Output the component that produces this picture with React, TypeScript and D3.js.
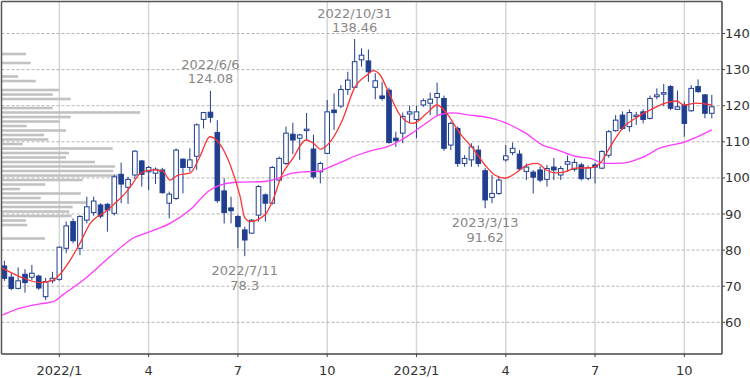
import React from 'react';
import * as d3 from 'd3';

// ---- data (weekly candles, 2021-11-08 .. 2023-10-30) ----
const candleOpen = [
  75.6, 72.5, 69.4, 73.3, 72.5, 72.8, 67.1, 71.5, 71.9, 80.5,
  87.9, 80.5, 88.3, 90.4, 92.5, 92.7, 90.2, 101.0, 97.4, 100.8,
  104.7, 101.7, 101.3, 102.2, 93.0, 94.3, 105.2, 102.9, 106.0, 116.2,
  118.2, 112.6, 96.4, 91.7, 89.3, 85.6, 84.7, 89.7, 95.3, 93.0,
  99.4, 104.0, 112.1, 111.0, 113.1, 108.0, 101.7, 106.8, 118.8, 119.9,
  124.5, 125.1, 132.7, 132.4, 125.1, 122.7, 124.3, 111.0, 112.4, 117.7,
  116.2, 120.2, 120.7, 122.3, 122.0, 109.1, 113.7, 104.0, 105.0, 107.7,
  102.0, 94.6, 95.7, 105.0, 107.0, 106.6, 101.8, 101.6, 102.2, 99.6,
  103.0, 100.8, 103.8, 102.4, 103.6, 99.9, 103.6, 102.7, 106.3, 113.1,
  117.4, 114.2, 117.0, 118.3, 116.5, 122.5, 123.2, 125.3, 119.0, 120.2,
  118.6, 125.3, 123.0, 117.9,
];
const candleHigh = [
  77.1, 73.6, 75.2, 74.7, 75.9, 73.2, 72.3, 74.0, 81.0, 87.9,
  88.8, 89.7, 94.8, 94.8, 93.0, 93.0, 100.8, 104.2, 100.3, 107.7,
  105.0, 103.3, 102.9, 102.8, 96.2, 108.2, 105.4, 108.2, 115.1, 118.3,
  124.08, 116.0, 99.9, 94.8, 89.7, 86.5, 88.6, 98.0, 95.7, 103.3,
  105.9, 114.2, 115.3, 112.2, 118.0, 112.0, 104.5, 121.6, 123.4, 125.7,
  129.4, 138.46, 135.9, 135.6, 129.0, 126.6, 125.0, 112.8, 118.1, 120.0,
  120.0, 122.0, 123.6, 126.4, 122.8, 115.6, 114.2, 106.3, 109.6, 109.0,
  102.7, 100.8, 100.5, 109.1, 109.8, 107.7, 104.0, 102.2, 103.2, 103.6,
  105.5, 103.3, 106.2, 105.3, 104.2, 103.4, 104.2, 107.7, 113.3, 117.4,
  118.4, 119.0, 118.3, 119.0, 122.8, 124.8, 126.0, 125.7, 124.2, 121.1,
  125.7, 127.3, 123.2, 123.0,
];
const candleLow = [
  71.5, 68.9, 69.1, 68.2, 71.7, 69.0, 66.2, 70.8, 71.5, 79.1,
  81.9, 78.6, 87.4, 89.5, 88.8, 85.1, 89.6, 93.0, 92.8, 99.7,
  97.6, 96.6, 98.3, 95.6, 88.8, 93.9, 95.7, 101.7, 102.2, 113.7,
  115.3, 93.1, 87.4, 87.4, 80.5, 78.3, 84.5, 87.9, 87.9, 92.6,
  99.0, 103.6, 106.6, 105.0, 110.5, 99.8, 98.5, 106.6, 113.3, 119.3,
  123.0, 124.8, 130.8, 126.6, 121.8, 121.4, 109.5, 108.6, 109.6, 115.1,
  111.0, 119.7, 117.4, 117.4, 107.5, 107.7, 103.1, 103.1, 103.1, 103.1,
  91.62, 93.0, 95.3, 104.5, 106.3, 102.0, 99.4, 95.7, 98.8, 97.6,
  99.4, 99.4, 101.7, 101.8, 99.3, 99.3, 98.5, 102.4, 105.6, 112.8,
  113.3, 112.8, 114.7, 115.1, 116.2, 121.8, 119.9, 118.8, 118.8, 111.4,
  118.3, 123.6, 116.5, 116.5,
];
const candleClose = [
  72.2, 69.4, 71.5, 71.0, 73.6, 69.5, 71.3, 72.2, 80.8, 86.7,
  82.6, 89.3, 92.0, 93.6, 89.4, 91.1, 100.3, 98.3, 99.6, 107.4,
  101.0, 102.9, 102.4, 95.9, 95.5, 107.7, 102.9, 105.0, 114.7, 118.1,
  116.8, 93.7, 90.4, 90.9, 86.5, 82.8, 88.3, 97.6, 93.0, 102.9,
  105.4, 112.4, 110.5, 111.9, 113.5, 100.3, 104.0, 118.3, 118.1, 124.5,
  127.1, 132.2, 134.0, 129.4, 126.9, 122.0, 109.8, 110.3, 117.0, 118.3,
  118.3, 121.4, 121.8, 123.4, 108.2, 115.1, 104.0, 105.4, 108.6, 104.0,
  93.9, 95.7, 99.4, 106.1, 108.2, 102.5, 103.0, 100.2, 99.4, 102.6,
  102.2, 102.6, 104.5, 104.3, 99.8, 102.8, 103.0, 107.3, 112.8, 116.0,
  113.7, 118.1, 117.4, 116.2, 122.0, 123.0, 123.6, 119.3, 119.7, 115.1,
  124.8, 123.9, 117.9, 119.7,
];

// short moving average (red), read at candle positions
const maShortIdx = [-0.3, 2.3, 5.2, 7.1, 8, 9.6, 11, 12.5, 13.4, 14.4, 16.1, 17.8, 18.7, 19.8, 21.6, 23.1, 24.1, 25.3, 27, 28.5, 29.9, 31.4, 32.9, 34.3, 35, 35.8, 37.9, 39, 40.4, 42, 43.9, 45, 46, 47.7, 49.2, 51, 52.8, 53.7, 54.7, 55.9, 57.6, 59.5, 61.5, 63, 64.6, 66.3, 68.2, 70, 71.4, 72.9, 74.4, 76.2, 77.6, 78.9, 80.3, 81.6, 83.1, 85.3, 86.7, 88.2, 90.1, 92.1, 94.2, 95.9, 97.9, 98.9, 100.7, 103];
const maShortVal = [75.0, 72.6, 71.0, 71.7, 73.1, 77.3, 81.9, 87.4, 89.1, 90.2, 93.0, 96.2, 98.5, 101.3, 102.2, 101.8, 99.4, 100.8, 101.3, 106, 111.4, 109.3, 103.5, 95, 89, 87.9, 89.7, 93.4, 100.8, 105.4, 110.5, 109.6, 108, 110.7, 116, 125, 128.5, 129.7, 128.5, 123.9, 117.4, 115.1, 117.9, 120.2, 117.4, 112.4, 108.2, 103.5, 100.8, 99.9, 101.3, 103.6, 104, 102.2, 101.4, 101.7, 102.7, 102.8, 104, 108.6, 114, 116.8, 119, 120.5, 121.3, 120.2, 120.7, 120.2];

// long moving average (magenta)
const maLongIdx = [-0.3, 2.3, 5.2, 7.1, 8.5, 11.5, 15.4, 18.7, 21.2, 24.1, 27, 29.9, 31.4, 33.6, 37.9, 39.8, 41.9, 43.9, 45.7, 47.1, 49.2, 51, 53.7, 55.7, 57.6, 59.5, 61.5, 63.4, 65.2, 67.8, 70.7, 72.9, 75.7, 78.7, 80.3, 83.1, 85.3, 87.5, 90, 92.8, 95.5, 99.1, 100.8, 103];
const maLongVal = [62.0, 63.9, 65.1, 65.7, 67.6, 71.7, 78.2, 83.3, 85.1, 87.4, 91.1, 96.6, 98.0, 98.8, 99.0, 99.9, 101.3, 101.7, 101.8, 102.8, 104.5, 106.0, 107.7, 108.6, 110.3, 112.6, 115.3, 117.5, 118.0, 117.4, 116.6, 115.3, 112.6, 108.8, 107.9, 106.0, 105.4, 104.0, 104.1, 105.6, 108.3, 110.0, 111.3, 113.3];

// price-by-volume profile
const profilePrice = [134.32, 131.83, 128.09, 126.84, 124.35, 123.10, 121.86, 119.36, 118.12, 116.87, 115.62, 114.38, 113.13, 111.88, 110.64, 109.39, 108.14, 106.90, 105.65, 104.40, 103.16, 101.91, 100.66, 99.42, 98.17, 96.92, 95.68, 94.43, 93.19, 91.94, 90.69, 89.45, 88.20, 86.95, 83.21];
const profileVolume = [24, 28.7, 16.3, 33.7, 57.3, 50.7, 68.7, 50.7, 138, 68.7, 57.3, 24.7, 64, 42, 46.3, 20.7, 110.7, 67, 64, 93, 113, 111.3, 116, 80.7, 43.3, 18, 78.7, 38.7, 84.7, 70.7, 67.3, 69.7, 24, 25.3, 43];

// annotations
const annDate = ['2022/6/6', '2022/7/11', '2022/10/31', '2023/3/13'];
const annValue = [124.08, 78.3, 138.46, 91.62];
const annIndex = [30, 35, 51, 70];
const annAbove = [true, false, true, false];

const yTicks = [60, 70, 80, 90, 100, 110, 120, 130, 140];

const FONT = '"DejaVu Sans", Verdana, sans-serif';
const BLUE = '#213f8f';

export default function App() {
  const weeks = d3.timeMonday.range(new Date(2021, 10, 8), new Date(2023, 10, 1));
  const L = 1.5, T = 1.5, R = 722, B = 354;
  const x = d3.scaleLinear().domain([0, weeks.length - 1]).range([4.4, 711.8]);
  const y = d3.scaleLinear().domain([51.22, 148.73]).range([354, 2]);
  const vol = d3.scaleLinear().domain([0, d3.max(profileVolume) as number]).range([0, 138]);

  const xTicks: { i: number; label: string }[] = [];
  weeks.forEach((w, i) => {
    const m = w.getMonth();
    if (m % 3 === 0 && (i === 0 || weeks[i - 1].getMonth() !== m)) {
      xTicks.push({ i, label: m === 0 ? `${w.getFullYear()}/1` : `${m + 1}` });
    }
  });

  const lineShort = d3.line<number>()
    .x((_, k) => x(maShortIdx[k]))
    .y((v) => y(v))
    .curve(d3.curveMonotoneX);
  const lineLong = d3.line<number>()
    .x((_, k) => x(maLongIdx[k]))
    .y((v) => y(v))
    .curve(d3.curveMonotoneX);

  const bodyW = 4.6;

  return (
    <svg width={750} height={378} style={{ position: 'absolute', left: 0, top: 0, background: '#fff' }}
      fontFamily={FONT}>
      <rect x={0} y={0} width={750} height={378} fill="#fff" />
      {/* vertical grid */}
      {xTicks.map((t) => (
        <line key={'vg' + t.i} x1={x(t.i)} x2={x(t.i)} y1={T} y2={B} stroke="#d6d6d6" strokeWidth={1.5} />
      ))}
      {/* horizontal grid */}
      {yTicks.map((v) => (
        <line key={'hg' + v} x1={L} x2={R} y1={y(v)} y2={y(v)} stroke="#b4b4b4" strokeWidth={1} strokeDasharray="3,2" />
      ))}
      {/* volume profile */}
      {profilePrice.map((p, k) => (
        <rect key={'pv' + k} x={L + 0.5} y={y(p) - 1.3} width={vol(profileVolume[k])} height={2.6} fill="#c2c2c2" />
      ))}
      {/* candles */}
      {candleOpen.map((o, i) => {
        const c = candleClose[i];
        const up = c >= o;
        const top = y(Math.max(o, c));
        const bot = y(Math.min(o, c));
        const cx = x(i);
        return (
          <g key={'c' + i}>
            <line x1={cx} x2={cx} y1={y(candleHigh[i])} y2={y(candleLow[i])} stroke={BLUE} strokeWidth={1} />
            <rect x={cx - bodyW / 2} y={top} width={bodyW} height={Math.max(bot - top, 1)}
              fill={up ? '#fff' : BLUE} stroke={BLUE} strokeWidth={1} />
          </g>
        );
      })}
      {/* moving averages */}
      <path d={lineLong(maLongVal) || ''} fill="none" stroke="#ff3cff" strokeWidth={1.3} />
      <path d={lineShort(maShortVal) || ''} fill="none" stroke="#ff3333" strokeWidth={1.3} />
      {/* annotations */}
      {annDate.map((d, k) => {
        const cx = x(annIndex[k]);
        const yy = annAbove[k] ? y(annValue[k]) - 12 : y(annValue[k]) + 14.5;
        const l1 = annAbove[k] ? yy - 14 : yy;
        const l2 = annAbove[k] ? yy : yy + 15;
        return (
          <g key={'a' + k} fill="#8a8784" fontSize={13} textAnchor="middle">
            <text x={cx} y={l1} dominantBaseline="central">{d}</text>
            <text x={cx} y={l2} dominantBaseline="central">{String(annValue[k])}</text>
          </g>
        );
      })}
      {/* frame */}
      <line x1={L} x2={R} y1={T} y2={T} stroke="#555" strokeWidth={1.5} />
      <line x1={L} x2={L} y1={T} y2={B} stroke="#555" strokeWidth={1.5} />
      <line x1={L} x2={R} y1={B} y2={B} stroke="#444" strokeWidth={1.5} />
      <line x1={R} x2={R} y1={T} y2={B} stroke="#444" strokeWidth={1.5} />
      {/* y axis */}
      {yTicks.map((v) => (
        <g key={'yt' + v}>
          <line x1={R} x2={R + 3} y1={y(v)} y2={y(v)} stroke="#444" />
          <text x={R + 3} y={y(v)} dominantBaseline="central" fontSize={13} fill="#333">{v}</text>
        </g>
      ))}
      {/* x axis */}
      {xTicks.map((t) => (
        <g key={'xt' + t.i}>
          <line x1={x(t.i)} x2={x(t.i)} y1={B} y2={B + 3} stroke="#444" />
          <text x={x(t.i)} y={375} textAnchor="middle" fontSize={13} fill="#333">{t.label}</text>
        </g>
      ))}
    </svg>
  );
}
